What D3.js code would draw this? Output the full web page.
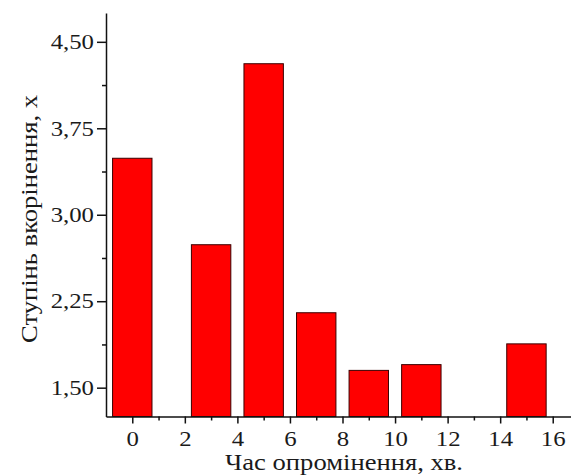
<!DOCTYPE html>
<meta charset="utf-8">
<head>
<style>
body { margin: 0; background: #fff; }
svg { display: block; }
text { font-family: "Liberation Serif", "Times New Roman", serif; fill: #1a1a1a; }
.bar { fill: #ff0000; stroke: #3a0000; stroke-width: 1px; }
.axis path, .axis line { stroke: #111; stroke-width: 1.5px; }
</style>
</head>
<body>
<svg width="571" height="476"></svg>
<script src="https://cdn.jsdelivr.net/npm/d3@7"></script>
<script>
// irradiation time, min
var times = [0, 3, 5, 7, 9, 11, 15];
// rooting degree
var rooting = [3.49, 2.74, 4.31, 2.15, 1.65, 1.70, 1.88];
var xTicks = [0, 2, 4, 6, 8, 10, 12, 14, 16],
    xMinor = [1, 3, 5, 7, 9, 11, 13, 15],
    yTicks = [1.5, 2.25, 3.0, 3.75, 4.5],
    yMinor = [1.875, 2.625, 3.375, 4.125];

var svg = d3.select("svg");

var x = d3.scaleLinear()
    .domain([-1, 17])
    .range([106, 579]);
var y = d3.scaleLinear()
    .domain([1.25, 4.75])
    .range([416.5, 13]);

var fmt = function(d) { return d3.format(".2f")(d).replace(".", ","); };
var barW = x(1.5) - x(0);

// the original font is a bit wider than Liberation Serif
function widen(sel, k) {
  sel.each(function() {
    var len = this.getComputedTextLength();
    d3.select(this).attr("textLength", len * k).attr("lengthAdjust", "spacingAndGlyphs");
  });
}

svg.selectAll(".bar")
    .data(times)
  .enter().append("rect")
    .attr("class", "bar")
    .attr("x", function(d) { return x(d) - barW / 2; })
    .attr("width", barW)
    .attr("y", function(d, i) { return y(rooting[i]); })
    .attr("height", function(d, i) { return y(1.25) - y(rooting[i]); });

// minor ticks
svg.append("g")
    .attr("class", "axis")
    .attr("transform", "translate(0," + y(1.25) + ")")
    .call(d3.axisBottom(x).tickValues(xMinor).tickSize(4).tickFormat(""))
    .select(".domain").remove();
svg.append("g")
    .attr("class", "axis")
    .attr("transform", "translate(" + x(-1) + ",0)")
    .call(d3.axisLeft(y).tickValues(yMinor).tickSize(4).tickFormat(""))
    .select(".domain").remove();

var gx = svg.append("g")
    .attr("class", "axis")
    .attr("transform", "translate(0," + y(1.25) + ")")
    .call(d3.axisBottom(x).tickValues(xTicks).tickSize(7).tickSizeOuter(0).tickPadding(8));
gx.selectAll("text").attr("font-size", 21).attr("font-family", null).call(widen, 1.18);

var gy = svg.append("g")
    .attr("class", "axis")
    .attr("transform", "translate(" + x(-1) + ",0)")
    .call(d3.axisLeft(y).tickValues(yTicks).tickFormat(fmt).tickSize(9).tickSizeOuter(0).tickPadding(3));
gy.selectAll("text").attr("font-size", 21).attr("font-family", null).call(widen, 1.18);

svg.append("text")
    .attr("x", 344)
    .attr("y", 470)
    .attr("text-anchor", "middle")
    .attr("font-size", 24)
    .text("Час опромінення, хв.")
    .attr("textLength", 238)
    .attr("lengthAdjust", "spacingAndGlyphs");

svg.append("text")
    .attr("transform", "translate(37,219) rotate(-90)")
    .attr("text-anchor", "middle")
    .attr("font-size", 24)
    .text("Ступінь вкорінення, х")
    .attr("textLength", 248)
    .attr("lengthAdjust", "spacingAndGlyphs");
</script>
</body>
</html>
